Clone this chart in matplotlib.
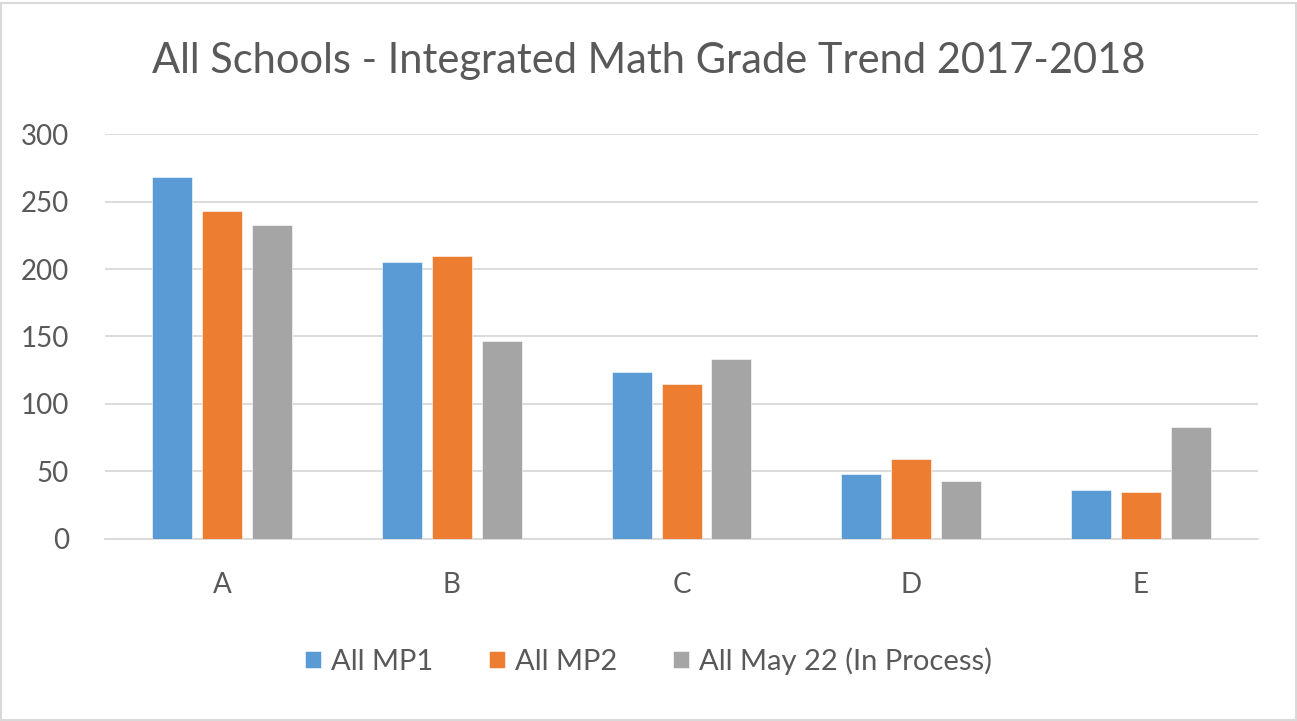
import numpy as np
import matplotlib.pyplot as plt
from matplotlib.patches import Rectangle

# Données
grades = ['A', 'B', 'C', 'D', 'E']
mp1 = [268, 205, 124, 48, 36]
mp2 = [243, 210, 115, 59, 35]
may22 = [233, 147, 133, 43, 83]
series_names = ['All MP1', 'All MP2', 'All May 22 (In Process)']
colors = ['#5B9BD5', '#ED7D31', '#A5A5A5']
yticks = [0, 50, 100, 150, 200, 250, 300]

plt.rcParams['font.family'] = ['Lato', 'DejaVu Sans']
text_color = '#595959'

fig = plt.figure(figsize=(12.97, 7.21), dpi=100)
ax = fig.add_axes([0.081, 0.2528, 0.889, 0.561])

x = np.arange(len(grades))
w = 0.174
step = 0.217
for i, (vals, name, c) in enumerate(zip([mp1, mp2, may22], series_names, colors)):
    ax.bar(x + (i - 1) * step, vals, width=w, color=c, label=name,
           edgecolor='white', linewidth=0.4, zorder=3)

ax.set_xlim(-0.51, 4.51)
ax.set_ylim(0, 300)
ax.set_yticks(yticks)
ax.set_xticks(x)
ax.set_xticklabels(grades)
ax.yaxis.grid(True, color='#D9D9D9', linewidth=1.3, zorder=0)
for s in ['top', 'right', 'left']:
    ax.spines[s].set_visible(False)
ax.spines['bottom'].set_color('#D9D9D9')
ax.spines['bottom'].set_linewidth(1.3)
ax.tick_params(axis='both', length=0, labelsize=20, colors=text_color)
ax.tick_params(axis='x', pad=24)
ax.tick_params(axis='y', pad=26)

fig.text(0.5, 0.915, 'All Schools - Integrated Math Grade Trend 2017-2018',
         ha='center', va='center', fontsize=30, color=text_color)

leg = fig.legend(loc='center', bbox_to_anchor=(0.5, 0.083), ncol=3, frameon=False,
                 fontsize=21, handlelength=0.55, handleheight=0.55,
                 columnspacing=1.9, handletextpad=0.35)
for t in leg.get_texts():
    t.set_color(text_color)

fig.patches.append(Rectangle((0.001, 0.001), 0.998, 0.995, transform=fig.transFigure,
                             fill=False, edgecolor='#D9D9D9', linewidth=1.5))

fig.savefig('out.png', dpi=100)
